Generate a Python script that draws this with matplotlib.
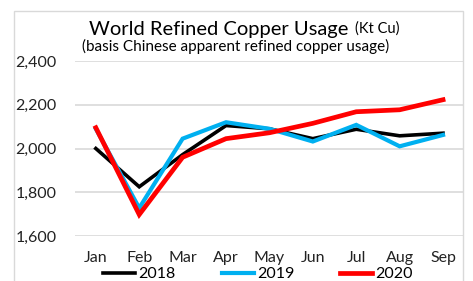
import matplotlib
matplotlib.use("Agg")
from matplotlib import pyplot as plt
from matplotlib.patches import Rectangle

plt.rcParams['font.family'] = ['Lato', 'DejaVu Sans']

months = ["Jan", "Feb", "Mar", "Apr", "May", "Jun", "Jul", "Aug", "Sep"]
usage_2018 = [2000, 1825, 1972, 2105, 2090, 2045, 2088, 2058, 2070]
usage_2019 = [2090, 1728, 2045, 2120, 2090, 2032, 2108, 2010, 2062]
usage_2020 = [2095, 1698, 1960, 2045, 2072, 2115, 2168, 2177, 2223]
yticks = [1600, 1800, 2000, 2200, 2400]

W, H = 473, 281
fig = plt.figure(figsize=(W / 100, H / 100), dpi=100)
ax = fig.add_axes([75 / W, 45 / H, (463 - 75) / W, (236 - 61) / H])

x = range(len(months))
l1, = ax.plot(x, usage_2018, color='black', lw=2.6, solid_joinstyle='miter')
l2, = ax.plot(x, usage_2019, color='#00B0F0', lw=3.0, solid_joinstyle='miter')
l3, = ax.plot(x, usage_2020, color='#FF0000', lw=3.4, solid_joinstyle='miter')

ax.set_ylim(1600, 2400)
ax.set_xlim(-0.48, 8.46)
ax.set_yticks(yticks)
ax.set_yticklabels([f"{v:,}" for v in yticks])
ax.set_xticks(list(x))
ax.set_xticklabels(months)
ax.tick_params(length=0, labelsize=11.5, colors='#222222')
ax.tick_params(axis='y', pad=13)
ax.tick_params(axis='x', pad=11)
ax.grid(axis='y', color='#D9D9D9', lw=1.2)
ax.set_axisbelow(True)
for s in ax.spines.values():
    s.set_visible(False)

# title
fig.text(348 / W, 1 - 29 / H, "World Refined Copper Usage", ha='right', va='center',
         fontsize=14.5)
fig.text(355 / W, 1 - 29 / H, "(Kt Cu)", ha='left', va='center', fontsize=10.5)
fig.text(236 / W, 1 - 46 / H, "(basis Chinese apparent refined copper usage)",
         ha='center', va='center', fontsize=11)

# chart border
fig.patches.append(Rectangle((14 / W, -0.1), (463 - 14) / W, 1.1 - 11 / H,
                             transform=fig.transFigure, fill=False,
                             edgecolor='#D9D9D9', lw=1))

fig.legend([l1, l2, l3], ["2018", "2019", "2020"], loc='center',
           bbox_to_anchor=(258 / W, 1 - 274 / H), ncol=3, frameon=False,
           fontsize=11.5, handlelength=2.0, handletextpad=0.2,
           columnspacing=2.9)

fig.savefig("out.png", dpi=100)
